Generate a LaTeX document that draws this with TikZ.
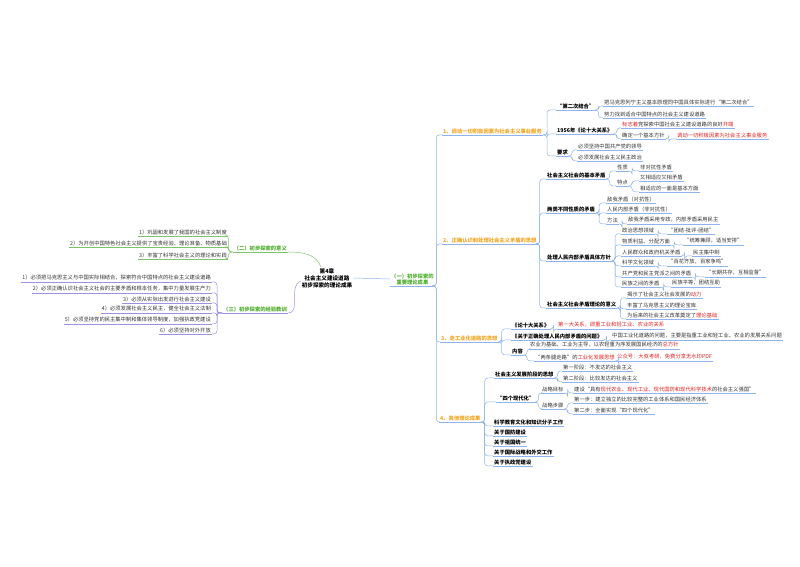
\documentclass[tikz,border=0pt]{standalone}
\usepackage{fontspec}
\setmainfont{Noto Sans CJK SC}
\definecolor{blueL}{HTML}{8FB3EC}
\definecolor{greenL}{HTML}{7CC46A}
\definecolor{greenT}{HTML}{4FAE2E}
\definecolor{purpL}{HTML}{9C92E3}
\definecolor{orT}{HTML}{F5A623}
\definecolor{redT}{HTML}{E02020}
\definecolor{txt}{HTML}{333333}
\newcommand\rd[1]{\textcolor{redT}{#1}}
\begin{document}
\begin{tikzpicture}[x=1pt,y=-1pt,
  br/.style={draw=blueL,line width=.5pt,rounded corners=3pt},
  t/.style={font=\fontsize{5.3}{6}\selectfont,text=txt,inner xsep=1pt,inner ysep=1.2pt,anchor=west,
    append after command={(\tikzlastnode.south west) edge[br,rounded corners=0pt] (\tikzlastnode.south east)}},
  tl/.style={t,anchor=east},
  b/.style={t,font=\fontsize{5.3}{6}\selectfont\bfseries,text=black},
  o/.style={t,font=\fontsize{5.3}{6}\selectfont\bfseries,text=orT}]
\useasboundingbox (0,0) rectangle (800,566);
\newcommand\cR[3][3]{\draw[br] (#2.south east) -- ++(#1,0) |- (#3.south west);}
\newcommand\cL[3][3]{\draw[br] (#2.south west) -- ++(-#1,0) |- (#3.south east);}

\node[font=\fontsize{5.6}{7}\selectfont\bfseries,align=center,inner sep=1pt] (c) at (327,278) {第4章\\社会主义建设道路\\初步探索的理论成果};

% ---------- left top
\begin{scope}[br/.style={draw=greenL,line width=.5pt,rounded corners=3pt}]
\node[t,anchor=east,font=\fontsize{5.3}{6}\selectfont\bfseries,text=greenT] (er) at (288,248) {（二）初步探索的意义};
\node[tl] (er1) at (228,232) {1）巩固和发展了我国的社会主义制度};
\node[tl] (er2) at (228,243) {2）为开创中国特色社会主义提供了宝贵经验、理论准备、物质基础};
\node[tl] (er3) at (228,255) {3）丰富了科学社会主义的理论和实践};
\foreach \i in {1,2,3}{\cL[4]{er}{er\i}}
\draw[br] (c.north) ++(-6,0) to[out=110,in=0] (er.south east);
\end{scope}

% ---------- left bottom
\begin{scope}[br/.style={draw=purpL,line width=.5pt,rounded corners=3pt}]
\node[t,anchor=east,font=\fontsize{5.3}{6}\selectfont\bfseries,text=greenT] (sa) at (288,309) {（三）初步探索的经验教训};
\node[tl] (sa1) at (212,278) {1）必须把马克思主义与中国实际相结合，探索符合中国特点的社会主义建设道路};
\node[tl] (sa2) at (212,289) {2）必须正确认识社会主义社会的主要矛盾和根本任务，集中力量发展生产力};
\node[tl] (sa3) at (212,299) {3）必须从实际出发进行社会主义建设};
\node[tl] (sa4) at (212,309) {4）必须发展社会主义民主，健全社会主义法制};
\node[tl] (sa5) at (212,320) {5）必须坚持党的民主集中制和集体领导制度，加强执政党建设};
\node[tl] (sa6) at (212,330) {6）必须坚持对外开放};
\foreach \i in {1,...,6}{\cL[5]{sa}{sa\i}}
\draw[br] (c.west) ++(0,3) to[out=200,in=0] (sa.south east);
\end{scope}

% ---------- right
\node[t,font=\fontsize{5.3}{6}\selectfont\bfseries,text=greenT,align=center] (yi) at (390,279) {（一）初步探索的\\重要理论成果};
\draw[br] (c.east) -- (yi.west);
\node[o] (A) at (442,131) {1、调动一切积极因素为社会主义事业服务};
\node[o] (B) at (442,240) {2、正确认识和处理社会主义矛盾的思想};
\node[o] (C) at (440,338) {3、走工业化道路的思想};
\node[o] (D) at (439,418) {4、其他理论成果};
\foreach \n in {A,B,C,D}{\cR[1.5]{yi}{\n}}

% A
\node[b] (A1) at (556,106) {“第二次结合”};
\node[t] (A11) at (603,102) {把马克思列宁主义基本原理同中国具体实际进行“第二次结合”};
\node[t] (A12) at (603,114) {努力找到适合中国特点的社会主义建设道路};
\node[b] (A2) at (556,130) {1956年《论十大关系》};
\node[t] (A21) at (621,124) {\rd{标志着}党探索中国社会主义建设道路的良好\rd{开端}};
\node[t] (A22) at (621,135) {确定一个基本方针};
\node[t,text=redT] (A221) at (676,135) {调动一切积极因素为社会主义事业服务};
\node[b] (A3) at (556,152) {要求};
\node[t] (A31) at (577,146) {必须坚持中国共产党的领导};
\node[t] (A32) at (577,157) {必须发展社会主义民主政治};
\foreach \n in {A1,A2,A3}{\cR[4]{A}{\n}}
\cR{A1}{A11}\cR{A1}{A12}\cR{A2}{A21}\cR{A2}{A22}\cR{A22}{A221}\cR{A3}{A31}\cR{A3}{A32}

% B
\node[b] (B1) at (546,175) {社会主义社会的基本矛盾};
\node[t] (B11) at (616,167) {性质};
\node[t] (B111) at (639,167) {非对抗性矛盾};
\node[t] (B12) at (616,182) {特点};
\node[t] (B121) at (639,177) {又相适应又相矛盾};
\node[t] (B122) at (639,188) {相适应的一面是基本方面};
\node[b] (B2) at (546,209) {两类不同性质的矛盾};
\node[t] (B21) at (606,199) {敌我矛盾（对抗性）};
\node[t] (B22) at (606,209) {人民内部矛盾（非对抗性）};
\node[t] (B23) at (606,220) {方法};
\node[t] (B231) at (627,220) {敌我矛盾采用专政，内部矛盾采用民主};
\node[b] (B3) at (546,257) {处理人民内部矛盾具体方针};
\node[t] (B31) at (621,230) {政治思想领域};
\node[t] (B311) at (667,230) {“团结-批评-团结”};
\node[t] (B32) at (621,241) {物质利益、分配方面};
\node[t] (B321) at (683,241) {“统筹兼顾，适当安排”};
\node[t] (B33) at (621,252) {人民群众和政府机关矛盾};
\node[t] (B331) at (692,252) {民主集中制};
\node[t] (B34) at (621,262) {科学文化领域};
\node[t] (B341) at (667,262) {“百花齐放，百家争鸣”};
\node[t] (B35) at (621,273) {共产党和民主党派之间的矛盾};
\node[t] (B351) at (705,273) {“长期共存，互相监督”};
\node[t] (B36) at (621,283) {民族之间的矛盾};
\node[t] (B361) at (671,283) {民族平等，团结互助};
\node[b] (B4) at (546,304) {社会主义社会矛盾理论的意义};
\node[t] (B41) at (626,294) {揭示了社会主义社会发展的\rd{动力}};
\node[t] (B42) at (626,305) {丰富了马克思主义的理论宝库};
\node[t] (B43) at (626,315) {为后来的社会主义改革奠定了\rd{理论基础}};
\foreach \n in {B1,B2,B3,B4}{\cR[2]{B}{\n}}
\cR{B1}{B11}\cR{B1}{B12}\cR{B11}{B111}\cR{B12}{B121}\cR{B12}{B122}
\cR{B2}{B21}\cR{B2}{B22}\cR{B2}{B23}\cR{B23}{B231}
\foreach \i in {1,...,6}{\cR{B3}{B3\i}\cR{B3\i}{B3\i1}}
\cR{B4}{B41}\cR{B4}{B42}\cR{B4}{B43}

% C
\node[b] (C1) at (511,325) {《论十大关系》};
\node[t,text=redT] (C11) at (557,325) {第一大关系，即重工业和轻工业、农业的关系};
\node[b] (C2) at (511,336) {《关于正确处理人民内部矛盾的问题》};
\node[t] (C21) at (611,336) {中国工业化道路的问题，主要是指重工业和轻工业、农业的发展关系问题};
\node[b] (C3) at (511,351) {内容};
\node[t] (C31) at (529,345) {农业为基础、工业为主导，以农轻重为序发展国民经济的\rd{总方针}};
\node[t] (C32) at (534,357) {“两条腿走路”的\rd{工业化发展思想}};
\node[t,text=redT] (C321) at (616,357) {公众号：大叔考研，免费分享无水印PDF};
\foreach \n in {C1,C2,C3}{\cR[3]{C}{\n}}
\cR{C1}{C11}\cR{C2}{C21}\cR{C3}{C31}\cR{C3}{C32}\cR{C32}{C321}

% D
\node[b] (D1) at (494,374) {社会主义发展阶段的思想};
\node[t] (D11) at (562,367) {第一阶段：不发达的社会主义};
\node[t] (D12) at (562,378) {第二阶段：比较发达的社会主义};
\node[b] (D2) at (496,398) {“四个现代化”};
\node[t] (D21) at (541,389) {战略目标};
\node[t] (D211) at (573,389) {建设“具有\rd{现代农业、现代工业、现代国防和现代科学技术}的社会主义强国”};
\node[t] (D22) at (541,405) {战略步骤};
\node[t] (D221) at (573,399) {第一步：建立独立的比较完整的工业体系和国民经济体系};
\node[t] (D222) at (573,410) {第二步：全面实现“四个现代化”};
\node[b] (D3) at (493,422) {科学教育文化和知识分子工作};
\node[b] (D4) at (493,432) {关于国防建设};
\node[b] (D5) at (493,442) {关于祖国统一};
\node[b] (D6) at (493,452) {关于国际战略和外交工作};
\node[b] (D7) at (493,462) {关于执政党建设};
\foreach \n in {D1,D2,D3,D4,D5,D6,D7}{\cR[3]{D}{\n}}
\cR{D1}{D11}\cR{D1}{D12}\cR{D2}{D21}\cR{D2}{D22}\cR{D21}{D211}\cR{D22}{D221}\cR{D22}{D222}
\end{tikzpicture}
\end{document}
